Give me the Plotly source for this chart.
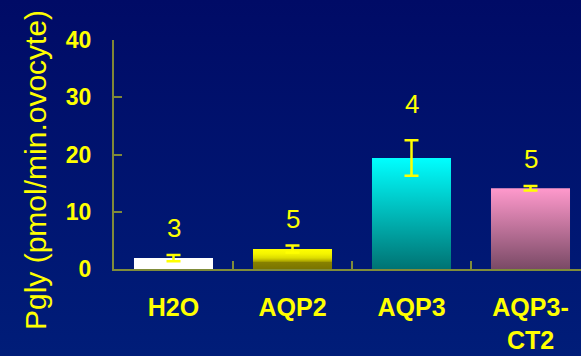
import base64
import plotly.graph_objects as go

# Glycerol permeability per injected construct
categories = ["H2O", "AQP2", "AQP3", "AQP3-<br>CT2"]
pgly = [1.9, 3.5, 19.4, 14.1]
pgly_err = [0.55, 0.6, 3.1, 0.4]
n_oocytes = ["3", "5", "4", "5"]
y_ticks = [0, 10, 20, 30, 40]

# Styling
YELLOW = "#ffff00"
AXIS = "rgba(255,255,0,0.5)"
FONT = "Arial, Liberation Sans, sans-serif"
BAR_WIDTH = 0.664
bar_fills = [
    None,  # plain white
    [[0, "#7a7400"], [0.33, "#878100"], [0.38, "#a9a300"], [0.46, "#c4c000"],
     [0.55, "#dcdc00"], [0.75, "#f4f400"], [1, "#ffff00"]],
    [[0, "#007373"], [1, "#00ffff"]],
    [[0, "#7a4a66"], [1, "#ff99cc"]],
]
label_shift = [10, 10, 19, 10]

W, H = 581, 356
M_L, M_R, M_T, M_B = 114, 0, 40, 87
plot_w = W - M_L - M_R
plot_h = H - M_T - M_B

fig = go.Figure()

# Bars drawn as filled rectangles so each can carry a vertical gradient
for i, (v, fill) in enumerate(zip(pgly, bar_fills)):
    xs = [i - BAR_WIDTH / 2, i + BAR_WIDTH / 2, i + BAR_WIDTH / 2, i - BAR_WIDTH / 2, i - BAR_WIDTH / 2]
    ys = [0, 0, v, v, 0]
    kw = dict(x=xs, y=ys, mode="none", fill="toself", hoverinfo="skip", showlegend=False)
    if fill is None:
        kw["fillcolor"] = "#ffffff"
    else:
        kw["fillgradient"] = dict(type="vertical", colorscale=fill)
    fig.add_trace(go.Scatter(**kw))

# Error bars (SEM)
fig.add_trace(go.Scatter(
    x=list(range(len(categories))), y=pgly, mode="markers",
    marker=dict(size=1, opacity=0), showlegend=False,
    error_y=dict(type="data", array=pgly_err, visible=True,
                 color=YELLOW, thickness=2.5, width=7),
))

# Number of oocytes above each bar
for i, (v, e, n) in enumerate(zip(pgly, pgly_err, n_oocytes)):
    fig.add_annotation(x=i, y=v + e, text=n, showarrow=False, yanchor="bottom",
                       yshift=label_shift[i], font=dict(family=FONT, size=26, color=YELLOW))

# Y-axis title
fig.add_annotation(xref="paper", yref="paper", x=(35 - M_L) / plot_w, y=(H - M_B - 170) / plot_h,
                   text="Pgly (pmol/min.ovocyte)", textangle=-90, showarrow=False,
                   xanchor="center", yanchor="middle",
                   font=dict(family=FONT, size=30, color=YELLOW))

# Navy background with a faint vertical gradient
svg = ('<svg xmlns="http://www.w3.org/2000/svg" width="10" height="100" preserveAspectRatio="none">'
       '<defs><linearGradient id="g" x1="0" y1="0" x2="0" y2="1">'
       '<stop offset="0" stop-color="#000b66"/><stop offset="1" stop-color="#001d79"/>'
       '</linearGradient></defs><rect width="10" height="100" fill="url(#g)"/></svg>')
bg_src = "data:image/svg+xml;base64," + base64.b64encode(svg.encode()).decode()
fig.add_layout_image(dict(source=bg_src, xref="paper", yref="paper",
                          x=-M_L / plot_w, y=1 + M_T / plot_h,
                          sizex=W / plot_w, sizey=H / plot_h,
                          sizing="stretch", xanchor="left", yanchor="top", layer="below"))

fig.update_layout(
    width=W, height=H,
    margin=dict(l=M_L, r=M_R, t=M_T, b=M_B, pad=0, autoexpand=False),
    paper_bgcolor="#00126f", plot_bgcolor="rgba(0,0,0,0)",
    font=dict(family=FONT, color=YELLOW),
    showlegend=False,
)
fig.update_xaxes(
    range=[-0.5, -0.5 + plot_w / 119.0], automargin=False,
    tickmode="array", tickvals=list(range(len(categories))), ticktext=categories,
    ticks="", showgrid=False, zeroline=False,
    showline=True, linecolor=AXIS, linewidth=2,
    tickfont=dict(family=FONT, size=25, color=YELLOW, weight="bold"),
    ticklabelstandoff=15,
    minor=dict(tickmode="array", tickvals=[0.5, 1.5, 2.5], ticks="inside",
               ticklen=8, tickwidth=2, tickcolor=AXIS, showgrid=False),
)
fig.update_yaxes(
    range=[0, 40], automargin=False, tickmode="array", tickvals=y_ticks,
    ticks="inside", ticklen=8, tickwidth=2, tickcolor=AXIS,
    showgrid=False, zeroline=False,
    showline=True, linecolor=AXIS, linewidth=2,
    tickfont=dict(family=FONT, size=23, color=YELLOW, weight="bold"),
    ticklabelstandoff=16,
)

fig.write_html("out.html")
